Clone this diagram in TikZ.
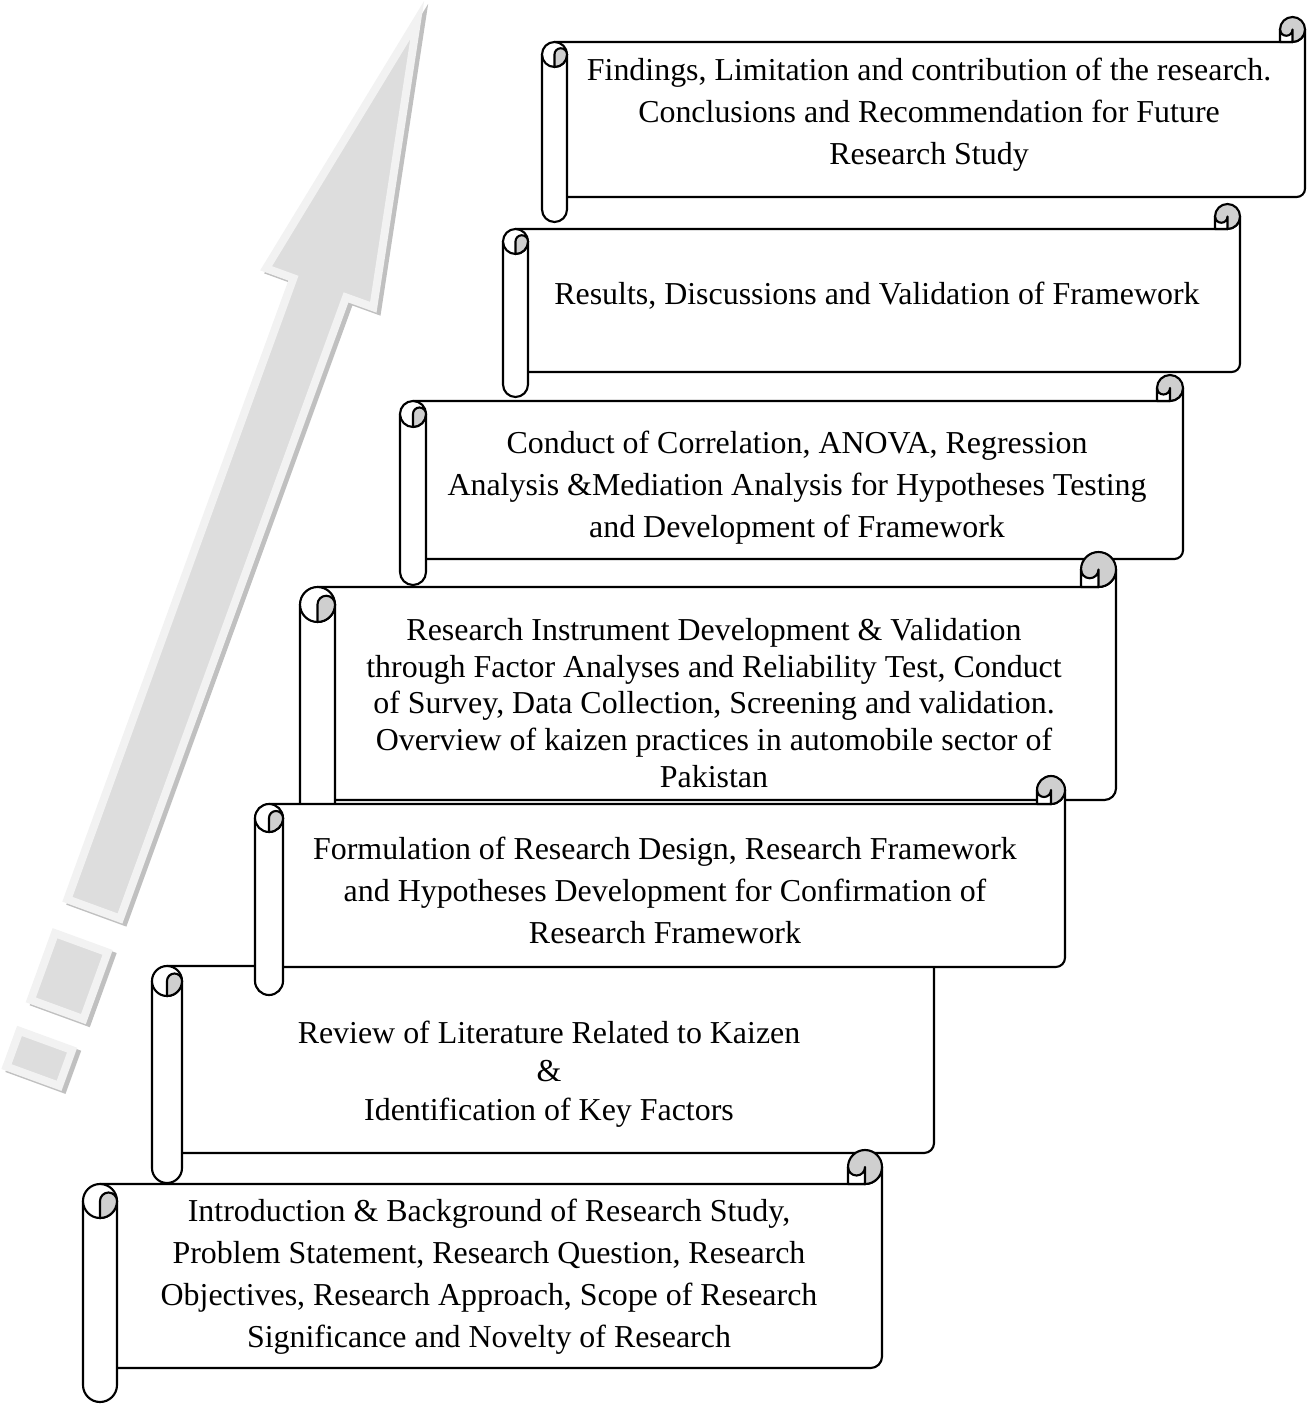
\documentclass[tikz,border=0pt]{standalone}
\usepackage{fontspec}
\setmainfont{Liberation Serif}
\definecolor{curlgray}{HTML}{CFCFCF}
\definecolor{arrowfill}{HTML}{DDDDDD}
\definecolor{arrowedge}{HTML}{F2F2F2}
\definecolor{arrowshade}{HTML}{C0C0C0}

% Horizontal scroll: #1 left, #2 top, #3 right, #4 bottom, #5 roll diameter
\newcommand{\hscroll}[5]{%
  \pgfmathsetmacro{\SkL}{#1}%
  \pgfmathsetmacro{\SkT}{#2}%
  \pgfmathsetmacro{\SkR}{#3}%
  \pgfmathsetmacro{\SkB}{#4}%
  \pgfmathsetmacro{\SkC}{#5}%
  \pgfmathsetmacro{\SkH}{#5/2}%
  \pgfmathsetmacro{\SkQ}{#5/4}%
  \pgfmathsetmacro{\SkK}{#5/3}%
  % sheet
  \path[sheet] ({\SkL+\SkH},{\SkT+\SkC}) -- ({\SkR-\SkH},{\SkT+\SkC})
    arc[start angle=90,end angle=0,radius=\SkH]
    -- ({\SkR},{\SkB-\SkC-\SkK}) arc[start angle=0,end angle=90,radius=\SkK]
    -- ({\SkL+\SkH},{\SkB-\SkC}) -- cycle;
  % top right curl
  \path[curl] ({\SkR-\SkH},{\SkT+\SkH}) circle[radius=\SkH];
  \path[sheet] ({\SkR-\SkC},{\SkT+\SkC}) -- ({\SkR-\SkC},{\SkT+\SkH})
    arc[start angle=180,end angle=0,radius=\SkQ]
    -- ({\SkR-\SkH},{\SkT+\SkC}) -- cycle;
  % left roll
  \path[sheet] ({\SkL},{\SkT+\SkC+\SkH}) -- ({\SkL},{\SkB-\SkH})
    arc[start angle=180,end angle=0,radius=\SkH]
    -- ({\SkL+\SkC},{\SkT+\SkC+\SkH}) -- cycle;
  \path[sheet] ({\SkL+\SkH},{\SkT+\SkC+\SkH}) circle[radius=\SkH];
  \path[curl] ({\SkL+\SkH},{\SkT+\SkC+\SkC}) -- ({\SkL+\SkH},{\SkT+\SkC+\SkH})
    arc[start angle=180,end angle=360,radius=\SkQ]
    arc[start angle=0,end angle=90,radius=\SkH] -- cycle;
}

% Striped arrow pieces
\newcommand{\arrowpieces}[1]{%
  \path[#1] (417.2,20.0) -- (373.3,307.3) -- (346.0,297.4) -- (120.0,918.5)
    -- (67.4,899.3) -- (293.4,278.2) -- (266.1,268.3) -- cycle;
  \path[#1] (55.0,933.2) -- (107.6,952.4) -- (83.4,1019.1) -- (30.8,999.9) -- cycle;
  \path[#1] (19.5,1030.9) -- (72.1,1050.1) -- (59.1,1085.8) -- (6.5,1066.6) -- cycle;
}

\tikzset{
  sheet/.style={fill=white, draw=black, line width=0.8pt, line join=round},
  curl/.style={fill=curlgray, draw=black, line width=0.8pt, line join=round},
  arrowbody/.style={fill=arrowfill, draw=arrowedge, line width=3pt, line join=miter},
  arrowshadow/.style={fill=arrowshade, draw=arrowshade, line width=3pt, line join=miter},
  lbl/.style={align=center, inner sep=0pt, font=\fontsize{12}{15.8}\selectfont},
}

\begin{document}
\begin{tikzpicture}[x=0.376pt,y=-0.376pt]
\useasboundingbox (0,0) rectangle (1314,1409);

% rising arrow with shadow
\begin{scope}[shift={(4,3)}]
  \arrowpieces{arrowshadow}
\end{scope}
\arrowpieces{arrowbody}

% stage 7 (top)
\hscroll{542}{17}{1305}{222}{25}
\node[lbl] (s1) at (929,115) {Findings, Limitation and contribution of the research.\\
  Conclusions and Recommendation for Future\\ Research Study};

% stage 6
\hscroll{503}{204}{1240}{397}{25}
\node[lbl] (s2) at (877,296) {Results, Discussions and Validation of Framework};

% stage 5
\hscroll{400}{375}{1183}{585}{26}
\node[lbl] (s3) at (797,488) {Conduct of Correlation, ANOVA, Regression\\
  Analysis \&Mediation Analysis for Hypotheses Testing\\ and Development of Framework};

% stage 4
\hscroll{300}{552}{1116}{835}{35}
\node[lbl, font=\fontsize{12}{13.8}\selectfont] (s4) at (714,703)
  {Research Instrument Development \& Validation\\
   through Factor Analyses and Reliability Test, Conduct\\
   of Survey, Data Collection, Screening and validation.\\
   Overview of kaizen practices in automobile sector of\\ Pakistan};

% stage 2
\hscroll{152}{936}{934}{1183}{30}
\node[lbl, font=\fontsize{12}{14.5}\selectfont] (s6) at (549,1074)
  {Review of Literature Related to Kaizen\\ \&\\ Identification of Key Factors};

% stage 3
\hscroll{255}{776}{1065}{995}{28}
\node[lbl] (s5) at (665,890) {Formulation of Research Design, Research Framework\\
  and Hypotheses Development for Confirmation of\\ Research Framework};

% stage 1 (bottom)
\hscroll{83}{1150}{882}{1402}{34}
\node[lbl] (s7) at (489,1277) {Introduction \& Background of Research Study,\\
  Problem Statement, Research Question, Research\\
  Objectives, Research Approach, Scope of Research\\
  Significance and Novelty of Research};
\end{tikzpicture}
\end{document}
